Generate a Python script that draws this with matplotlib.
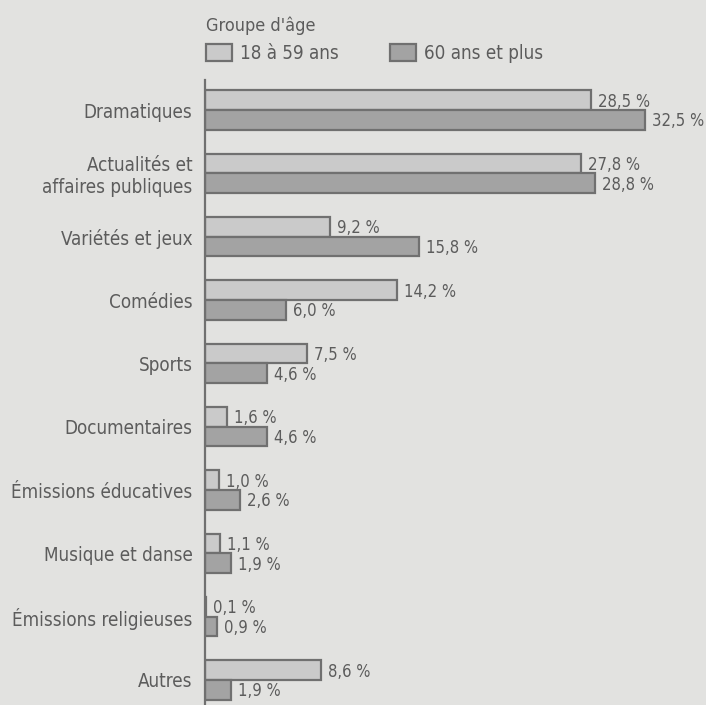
import matplotlib.pyplot as plt
from matplotlib.patches import Patch

categories = ['Dramatiques', 'Actualités et\naffaires publiques', 'Variétés et jeux',
              'Comédies', 'Sports', 'Documentaires', 'Émissions éducatives',
              'Musique et danse', 'Émissions religieuses', 'Autres']
age_18_59 = [28.5, 27.8, 9.2, 14.2, 7.5, 1.6, 1.0, 1.1, 0.1, 8.6]
age_60_plus = [32.5, 28.8, 15.8, 6.0, 4.6, 4.6, 2.6, 1.9, 0.9, 1.9]
series_names = ['18 à 59 ans', '60 ans et plus']

bg = '#e2e2e0'
light = '#cacaca'
dark = '#a3a3a3'
edge = '#707070'
txt = '#5c5c5c'

plt.rcParams['font.family'] = ['DejaVu Sans']
plt.rcParams['font.stretch'] = 'condensed'

fig = plt.figure(figsize=(7.06, 7.05), dpi=100, facecolor=bg)
ax = fig.add_axes([0.2904, 0.0, 0.7096, 0.8865])
ax.set_facecolor(bg)

h = 0.31
pos = list(range(len(categories)))
ax.barh([p - h / 2 for p in pos], age_18_59, height=h, color=light,
        edgecolor=edge, linewidth=1.6)
ax.barh([p + h / 2 for p in pos], age_60_plus, height=h, color=dark,
        edgecolor=edge, linewidth=1.6)

def fmt(v):
    return f'{v:.1f}'.replace('.', ',') + ' %'

for p, a, b in zip(pos, age_18_59, age_60_plus):
    ax.annotate(fmt(a), (a, p - h / 2), xytext=(5, -1), textcoords='offset points',
                va='center', ha='left', fontsize=12, color=txt)
    ax.annotate(fmt(b), (b, p + h / 2), xytext=(5, -1), textcoords='offset points',
                va='center', ha='left', fontsize=12, color=txt)

ax.set_xlim(0, 37)
ax.set_ylim(9.395, -0.474)
ax.set_yticks(pos)
ax.set_yticklabels(categories, fontsize=13.5, color=txt)
ax.tick_params(axis='y', length=0, pad=9)
ax.set_xticks([])
for s in ['top', 'right', 'bottom']:
    ax.spines[s].set_visible(False)
ax.spines['left'].set_color(edge)
ax.spines['left'].set_linewidth(1.6)

handles = [Patch(facecolor=light, edgecolor=edge, linewidth=1.6),
           Patch(facecolor=dark, edgecolor=edge, linewidth=1.6)]
leg = ax.legend(handles, series_names, title="Groupe d'âge", ncol=2,
                loc='lower left', bbox_to_anchor=(-0.032, 1.0), frameon=False,
                fontsize=13.5, title_fontsize=13, alignment='left',
                handlelength=1.4, handleheight=1.0, handletextpad=0.43,
                columnspacing=2.7, labelcolor=txt)
leg.get_title().set_color(txt)

fig.savefig('out.png', dpi=100, facecolor=bg)
